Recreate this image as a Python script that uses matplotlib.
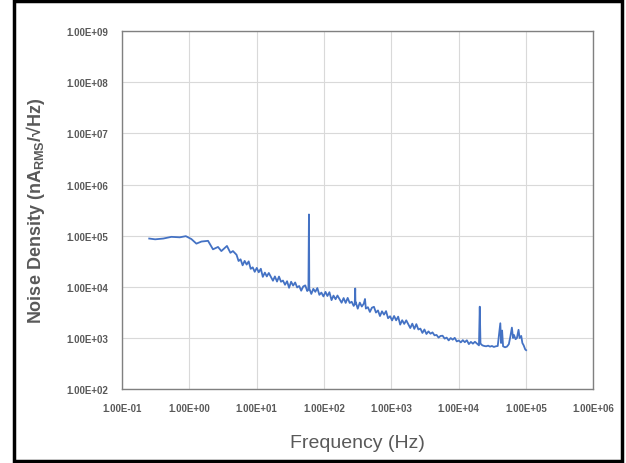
import matplotlib
matplotlib.use("Agg")
import matplotlib.pyplot as plt
from matplotlib.patches import Rectangle
from matplotlib.ticker import FuncFormatter, LogLocator

plt.rcParams['font.family'] = ['Liberation Sans', 'DejaVu Sans']
plt.rcParams['mathtext.fontset'] = 'custom'
plt.rcParams['mathtext.rm'] = 'Liberation Sans'
plt.rcParams['mathtext.bf'] = 'Liberation Sans:bold'

# frequency (Hz) and noise density (nA rms / sqrt Hz)
freq = [0.253, 0.31, 0.41, 0.54, 0.72, 0.885, 1.07, 1.27, 1.51, 1.89,
        2.24, 2.66, 2.98, 3.61, 4.06, 4.43,
        5.01, 5.37, 5.75, 6.17, 6.61, 7.08, 7.59, 8.13, 8.71, 9.33,
        10.0, 10.7, 11.5, 12.3, 13.2, 14.1, 15.1, 16.2, 17.4, 18.6,
        20.0, 21.4, 22.9, 24.5, 26.3, 28.2, 30.2, 32.4, 34.7, 37.2,
        39.8, 42.7, 45.7, 49.0, 52.5, 56.2, 58.5, 59.6, 60.3, 64.6,
        69.2, 74.1, 79.4, 85.1, 91.2, 97.7,
        105, 112, 120, 129, 138, 148, 158, 170, 182, 195,
        209, 224, 240, 257, 275, 285, 290, 292, 295, 316,
        339, 363, 389, 405, 417, 447, 479, 513, 550, 589,
        631, 676, 724, 776, 832, 891, 955,
        1023, 1096, 1175, 1259, 1349, 1445, 1549, 1660, 1778, 1905,
        2042, 2188, 2344, 2512, 2692, 2884, 3090, 3311, 3548, 3802,
        4074, 4365, 4677, 5012, 5370, 5754, 6166, 6607, 7079, 7586,
        8128, 8710, 9333,
        10000, 10720, 11480, 12300, 13180, 14130, 15140, 16220, 17380, 18620,
        19950, 20500, 21000, 22400, 23900, 25500, 27300, 29100, 31100, 33200,
        35500, 37900, 40000, 41400, 42500, 44000, 45500, 48600, 51900, 55400,
        58200, 61500, 64000, 66000, 69700, 73000, 77200, 80000, 84600, 88000,
        92000, 97000, 100000]
noise = [88000, 85000, 88000, 95000, 93000, 98000, 86000, 70000, 76900, 79400,
         54200, 60300, 50100, 63100, 46400, 50100,
         42400, 32000, 34600, 26400, 32200, 27300, 31500, 22500, 24100, 19700,
         23500, 19300, 22600, 15700, 19000, 16000, 18700, 15700, 13200, 16000,
         12700, 15900, 12600, 13300, 11000, 12900, 9600, 12600, 10600, 12200,
         9740, 10400, 8420, 10200, 10700, 8300, 8800, 260000, 9260, 7280,
         9150, 8010, 9500, 6990, 7740, 6510,
         7990, 6630, 7870, 5510, 6750, 5740, 6780, 5750, 4900, 6050,
         4860, 6090, 4850, 5120, 4250, 4600, 9300, 4700, 5030, 3750,
         4930, 4130, 4710, 5800, 3770, 4010, 3240, 3920, 4080, 3150,
         3460, 2690, 3330, 2870, 3360, 2440, 2670,
         2210, 2700, 2220, 2620, 1830, 2230, 1890, 2220, 1870, 1570,
         1910, 1510, 1870, 1470, 1530, 1260, 1470, 1200, 1350, 1215,
         1290, 1130, 1150, 1020, 1100, 1110, 975, 1020, 900, 1000,
         930, 1010, 860,
         895, 823, 910, 830, 906, 761, 841, 777, 846, 779,
         719, 4100, 780, 720, 700, 690, 710, 680, 700, 670,
         690, 700, 1300, 1950, 800, 1400, 690, 660, 680, 760,
         1050, 1600, 1000, 1150, 950, 1000, 1450, 1000, 1100, 800,
         720, 600, 580]

xticks = [1e-1, 1e0, 1e1, 1e2, 1e3, 1e4, 1e5, 1e6]
yticks = [1e2, 1e3, 1e4, 1e5, 1e6, 1e7, 1e8, 1e9]

fig = plt.figure(figsize=(6.26, 4.64), dpi=100)
ax = fig.add_axes([0.195, 0.159, 0.753, 0.772])

ax.plot(freq, noise, color='#4472C4', lw=1.3)

ax.set_xscale('log')
ax.set_yscale('log')
ax.set_xlim(1e-1, 1e6)
ax.set_ylim(1e2, 1e9)
ax.set_xticks(xticks)
ax.set_yticks(yticks)
ax.xaxis.set_minor_locator(LogLocator(subs=[]))
ax.yaxis.set_minor_locator(LogLocator(subs=[]))
fmt = FuncFormatter(lambda v, p: f"{v:.2E}")
ax.xaxis.set_major_formatter(fmt)
ax.yaxis.set_major_formatter(fmt)
ax.tick_params(length=0, labelsize=7, labelcolor='#595959', pad=10)
for lab in ax.get_xticklabels() + ax.get_yticklabels():
    lab.set_fontweight('bold')
ax.grid(True, color='#D9D9D9', lw=0.8)
ax.set_axisbelow(True)
for s in ax.spines.values():
    s.set_color('#808080')
    s.set_linewidth(1.0)

ax.set_xlabel('Frequency (Hz)', fontsize=14, color='#595959', labelpad=15)
ax.set_ylabel(r'Noise Density (nA$_{\mathbf{RMS}}$/√Hz)', fontsize=13,
              fontweight='bold', color='#595959', labelpad=14)

fig.patches.append(Rectangle((0.0224, 0.0043), 0.971, 0.9914, transform=fig.transFigure,
                             fill=False, edgecolor='black', lw=2.5))

fig.savefig('out.png', dpi=100)
